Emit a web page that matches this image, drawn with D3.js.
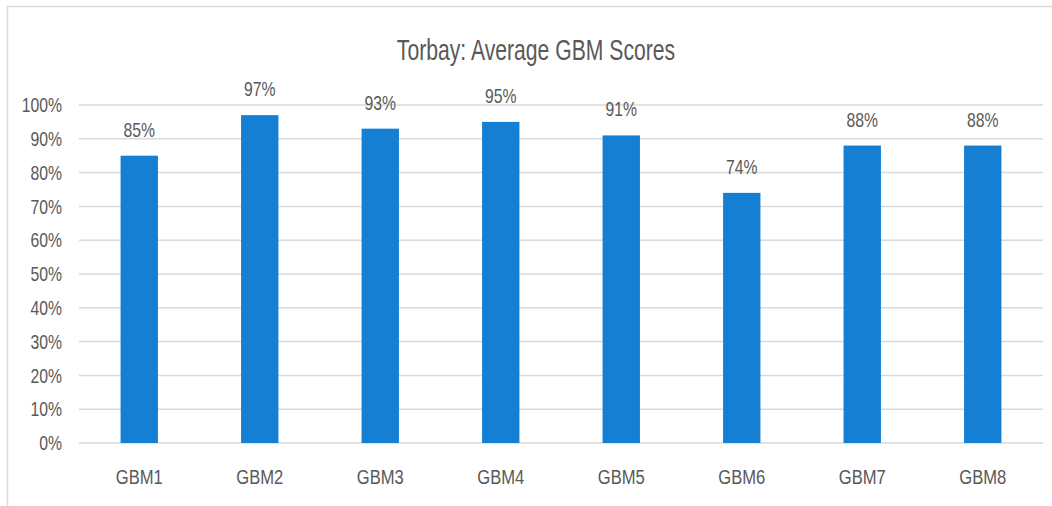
<!DOCTYPE html>
<html lang="en">
<head>
<meta charset="UTF-8">
<title>Torbay: Average GBM Scores</title>
<script src="https://d3js.org/d3.v7.min.js"></script>
<style>
  body { margin: 0; background: #fff; }
  text { font-family: "Liberation Sans", Arial, sans-serif; fill: #595959; }
</style>
</head>
<body>
<svg width="1052" height="506"></svg>
<script>
    // data
    var categories = ["GBM1", "GBM2", "GBM3", "GBM4", "GBM5", "GBM6", "GBM7", "GBM8"];
    var scores = [85, 97, 93, 95, 91, 74, 88, 88];
    var yTicks = [0, 10, 20, 30, 40, 50, 60, 70, 80, 90, 100];

    var svg = d3.select("svg");
    var margin = {top: 105, right: 9, bottom: 63, left: 79};
    var width = 1052 - margin.left - margin.right;
    var height = 506 - margin.top - margin.bottom;

    // squeeze text horizontally around its own anchor (the original font is a narrow one)
    function condense(sel, k) {
        sel.each(function () {
            var t = d3.select(this);
            var tx = +t.attr("x") || 0;
            t.attr("transform", "translate(" + tx + ",0) scale(" + k + ",1) translate(" + (-tx) + ",0)");
        });
    }

    // chart frame
    svg.append("path")
        .attr("d", "M7.5,506 V6.5 H1052")
        .attr("fill", "none")
        .attr("stroke", "#d9d9d9")
        .attr("stroke-width", 1.5);

    svg.append("text")
        .attr("x", 536)
        .attr("y", 60)
        .attr("text-anchor", "middle")
        .attr("font-size", "29px")
        .text("Torbay: Average GBM Scores")
        .call(condense, 0.73);

    var g = svg.append("g").attr("transform", "translate(" + margin.left + "," + margin.top + ")");

    var x = d3.scaleBand()
        .domain(categories)
        .range([0, width])
        .paddingInner(0.69)
        .paddingOuter(0.345);

    var y = d3.scaleLinear()
        .domain([0, 100])
        .range([height, 0]);

    // gridlines
    g.append("g")
        .selectAll("line")
        .data(yTicks)
        .enter().append("line")
        .attr("x1", 0)
        .attr("x2", width)
        .attr("y1", function (d) { return y(d); })
        .attr("y2", function (d) { return y(d); })
        .attr("stroke", "#d9d9d9")
        .attr("stroke-width", 1.5);

    // y axis
    var yAxis = g.append("g")
        .call(d3.axisLeft(y).tickValues(yTicks).tickSize(0).tickPadding(17).tickFormat(function (d) { return d + "%"; }));
    yAxis.select(".domain").remove();
    yAxis.attr("font-family", null).attr("font-size", null);
    yAxis.selectAll("text")
        .attr("font-size", "21px")
        .attr("fill", "#595959")
        .call(condense, 0.75);

    // x axis
    var xAxis = g.append("g")
        .attr("transform", "translate(0," + height + ")")
        .call(d3.axisBottom(x).tickSize(0).tickPadding(26));
    xAxis.select(".domain").remove();
    xAxis.attr("font-family", null).attr("font-size", null);
    xAxis.selectAll("text")
        .attr("font-size", "21px")
        .attr("fill", "#595959")
        .call(condense, 0.79);

    // bars
    g.append("g")
        .selectAll("rect")
        .data(scores)
        .enter().append("rect")
        .attr("x", function (d, i) { return x(categories[i]); })
        .attr("y", function (d) { return y(d); })
        .attr("width", x.bandwidth())
        .attr("height", function (d) { return height - y(d); })
        .attr("fill", "#147fd3");

    // value labels
    g.append("g")
        .selectAll("text")
        .data(scores)
        .enter().append("text")
        .attr("x", function (d, i) { return x(categories[i]) + x.bandwidth() / 2; })
        .attr("y", function (d) { return y(d) - 19; })
        .attr("text-anchor", "middle")
        .attr("font-size", "21px")
        .text(function (d) { return d + "%"; })
        .call(condense, 0.75);
</script>
</body>
</html>
